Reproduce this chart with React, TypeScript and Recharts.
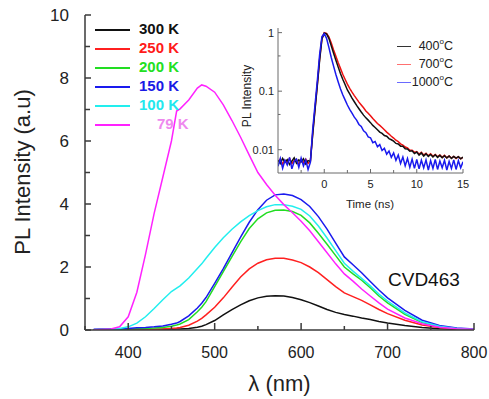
import React from "react";
import { LineChart, Line, XAxis, YAxis, Label } from "recharts";

const FONT = "'Liberation Sans', Arial, Helvetica, sans-serif";
const AXIS = "#3a3a3a";

// main spectra: PL intensity vs wavelength
const wavelengths = [
  360, 380, 390, 400, 410, 420, 430, 440, 450, 456, 460, 470, 480, 485, 490, 500, 510, 520, 530, 540, 550,
  560, 570, 580, 590, 600, 610, 620, 630, 640, 650, 660, 670, 680, 690, 700, 720, 740, 760, 780, 800,
];
const k300 = [
  0, 0, 0, 0.005, 0.01, 0.01, 0.015, 0.02, 0.025, 0.03, 0.035, 0.05, 0.09, 0.12, 0.17, 0.3, 0.48, 0.65, 0.8, 0.93, 1.02,
  1.07, 1.09, 1.08, 1.03, 0.96, 0.87, 0.76, 0.65, 0.56, 0.49, 0.44, 0.38, 0.33, 0.27, 0.22, 0.14, 0.08, 0.04, 0.02, 0.01,
];
const k250 = [
  0, 0, 0.005, 0.01, 0.01, 0.015, 0.02, 0.03, 0.05, 0.06, 0.08, 0.15, 0.28, 0.37, 0.48, 0.72, 1.02, 1.36, 1.68, 1.94, 2.12,
  2.23, 2.28, 2.28, 2.22, 2.14, 2.0, 1.82, 1.6, 1.38, 1.18, 1.06, 0.94, 0.8, 0.65, 0.52, 0.31, 0.16, 0.08, 0.03, 0.01,
];
const k200 = [
  0.01, 0.02, 0.02, 0.03, 0.04, 0.05, 0.06, 0.08, 0.12, 0.16, 0.19, 0.33, 0.58, 0.72, 0.9, 1.38, 1.85, 2.33, 2.8, 3.22, 3.53,
  3.72, 3.8, 3.81, 3.76, 3.64, 3.4, 3.07, 2.72, 2.36, 2.0, 1.78, 1.58, 1.34, 1.08, 0.86, 0.5, 0.24, 0.11, 0.05, 0.02,
];
const k150 = [
  0.02, 0.03, 0.04, 0.05, 0.07, 0.08, 0.1, 0.13, 0.18, 0.22, 0.27, 0.45, 0.7, 0.85, 1.03, 1.48, 1.95, 2.45, 2.95, 3.42, 3.82,
  4.12, 4.29, 4.32, 4.27, 4.14, 3.92, 3.6, 3.2, 2.76, 2.32, 2.07, 1.82, 1.54, 1.27, 1.02, 0.62, 0.31, 0.14, 0.06, 0.03,
];
const k100 = [
  0, 0.02, 0.05, 0.1, 0.22, 0.42, 0.68, 0.96, 1.22, 1.33, 1.4, 1.65, 1.95, 2.1, 2.28, 2.62, 2.93, 3.2, 3.43, 3.63, 3.79,
  3.91, 3.98, 3.98, 3.93, 3.83, 3.62, 3.3, 2.92, 2.52, 2.12, 1.87, 1.64, 1.4, 1.14, 0.92, 0.54, 0.26, 0.12, 0.05, 0.02,
];
const k79 = [
  0, 0.03, 0.1, 0.42, 1.2, 2.4, 3.7, 4.85, 6.0, 6.95, 7.02, 7.3, 7.68, 7.78, 7.74, 7.55, 7.15, 6.65, 6.12, 5.55, 5.0,
  4.62, 4.28, 3.98, 3.72, 3.45, 3.15, 2.8, 2.45, 2.1, 1.78, 1.55, 1.3, 1.08, 0.86, 0.66, 0.38, 0.2, 0.09, 0.04, 0.02,
];

const xTicks = [350, 400, 450, 500, 550, 600, 650, 700, 750, 800];
const yTicks = [0, 1, 2, 3, 4, 5, 6, 7, 8, 9, 10];

const spectra = [
  { key: "k300", name: "300 K", values: k300, color: "#111111", text: "#111111", indent: 0 },
  { key: "k250", name: "250 K", values: k250, color: "#ff2020", text: "#ff1a1a", indent: 0 },
  { key: "k200", name: "200 K", values: k200, color: "#22dd22", text: "#22e022", indent: 0 },
  { key: "k150", name: "150 K", values: k150, color: "#1a1aee", text: "#1a1ae6", indent: 0 },
  { key: "k100", name: "100 K", values: k100, color: "#22eeee", text: "#22e8ee", indent: 0 },
  { key: "k79", name: "79 K", values: k79, color: "#ff22ff", text: "#ee88ee", indent: 18 },
];

const spectraData = wavelengths.map((w, i) => {
  const row: any = { w };
  spectra.forEach((s) => (row[s.key] = s.values[i]));
  return row;
});

// inset: time-resolved PL decay
const times = [
  -5, -4.75, -4.5, -4.25, -4, -3.75, -3.5, -3.25, -3, -2.75, -2.5, -2.25, -2, -1.75, -1.5, -1.25, -1, -0.75, -0.5, -0.25,
  0, 0.25, 0.5, 0.75, 1, 1.25, 1.5, 1.75, 2, 2.25, 2.5, 2.75, 3, 3.25, 3.5, 3.75, 4, 4.25, 4.5, 4.75,
  5, 5.25, 5.5, 5.75, 6, 6.25, 6.5, 6.75, 7, 7.25, 7.5, 7.75, 8, 8.25, 8.5, 8.75, 9, 9.25, 9.5, 9.75,
  10, 10.25, 10.5, 10.75, 11, 11.25, 11.5, 11.75, 12, 12.25, 12.5, 12.75, 13, 13.25, 13.5, 13.75, 14, 14.25, 14.5, 14.75, 15,
];
const c400 = [
  0.0066, 0.0058, 0.0071, 0.0061, 0.0068, 0.0056, 0.0064, 0.0073, 0.0059, 0.0067, 0.0062, 0.007, 0.0057, 0.0065, 0.0063,
  0.018, 0.048, 0.125, 0.34, 0.78, 0.98, 0.95, 0.8, 0.6, 0.45, 0.34, 0.26, 0.2, 0.16, 0.13, 0.105, 0.09, 0.076, 0.066,
  0.057, 0.05, 0.044, 0.039, 0.035, 0.032, 0.029, 0.026, 0.024, 0.022, 0.02, 0.019, 0.0175, 0.017, 0.0155, 0.0148,
  0.014, 0.0128, 0.0125, 0.0115, 0.0115, 0.0104, 0.0103, 0.0094, 0.0096, 0.0086, 0.0091,
  0.0081, 0.0088, 0.0078, 0.0085, 0.0077, 0.0083, 0.0075, 0.0082, 0.0074, 0.008, 0.0073, 0.0079, 0.0072, 0.0078, 0.0071,
  0.0077, 0.0072, 0.0076, 0.007, 0.0075,
];
const c700 = [
  0.0062, 0.0069, 0.0057, 0.0066, 0.006, 0.0071, 0.0058, 0.0065, 0.0068, 0.0056, 0.0067, 0.006, 0.0069, 0.0058, 0.0064,
  0.019, 0.05, 0.13, 0.36, 0.8, 1.0, 0.97, 0.85, 0.67, 0.51, 0.4, 0.31, 0.245, 0.195, 0.16, 0.132, 0.112, 0.096, 0.084,
  0.074, 0.065, 0.058, 0.052, 0.046, 0.042, 0.038, 0.034, 0.031, 0.028, 0.026, 0.024, 0.022, 0.02, 0.0185, 0.017,
  0.0158, 0.0145, 0.0137, 0.0126, 0.012, 0.0111, 0.0107, 0.0098, 0.0098, 0.009, 0.0093,
  0.0084, 0.009, 0.0081, 0.0087, 0.0079, 0.0085, 0.0077, 0.0083, 0.0076, 0.0081, 0.0074, 0.008, 0.0073, 0.0078, 0.0072,
  0.0077, 0.0071, 0.0076, 0.007, 0.0074,
];
const c1000 = [
  0.0052, 0.0071, 0.0048, 0.0066, 0.0055, 0.0074, 0.0047, 0.0063, 0.0069, 0.005, 0.0072, 0.0053, 0.0067, 0.0046, 0.0061,
  0.022, 0.058, 0.15, 0.42, 0.86, 0.96, 0.8, 0.56, 0.38, 0.27, 0.195, 0.145, 0.11, 0.087, 0.071, 0.058, 0.049, 0.042,
  0.036, 0.032, 0.027, 0.025, 0.021, 0.0195, 0.0165, 0.016, 0.0132, 0.0138, 0.0112, 0.0122, 0.0097, 0.0106, 0.0084,
  0.0095, 0.0074, 0.0088, 0.0066, 0.0081, 0.0058, 0.0075, 0.0053, 0.0071, 0.005, 0.0069, 0.0048, 0.0068,
  0.0047, 0.0066, 0.0049, 0.0067, 0.0045, 0.0065, 0.0048, 0.0068, 0.0046, 0.0064, 0.0049, 0.0066, 0.0045, 0.0063, 0.0048,
  0.0067, 0.0046, 0.0065, 0.0049, 0.0062,
];

const insetXTicks = [-5, -2.5, 0, 2.5, 5, 7.5, 10, 12.5, 15];
const insetYTicks = [
  0.005, 0.006, 0.007, 0.008, 0.009, 0.01, 0.02, 0.03, 0.04, 0.05, 0.06, 0.07, 0.08, 0.09,
  0.1, 0.2, 0.3, 0.4, 0.5, 0.6, 0.7, 0.8, 0.9, 1,
];
const insetYLabels: Record<string, string> = { "0.01": "0.01", "0.1": "0.1", "1": "1" };

const decays = [
  { key: "c700", name: "700", values: c700, color: "#ee1111", legend: "#ff7070" },
  { key: "c400", name: "400", values: c400, color: "#111111", legend: "#333333" },
  { key: "c1000", name: "1000", values: c1000, color: "#1a1aee", legend: "#6a6aff" },
];
const decayLegendOrder = ["c400", "c700", "c1000"];

const decayData = times.map((t, i) => {
  const row: any = { t };
  decays.forEach((s) => (row[s.key] = s.values[i]));
  return row;
});

// ---- tick renderers (ticks point inward, like the original plot) ----
const BottomTick = (props: any) => {
  const { x, y, payload } = props;
  const major = payload.value % 100 === 0;
  return (
    <g>
      <line x1={x} y1={y} x2={x} y2={y - (major ? 7 : 4)} stroke={AXIS} strokeWidth={1.5} />
      {major && payload.value !== 350 && (
        <text x={x} y={y + 28} textAnchor="middle" fontSize={16} fill="#222" fontFamily={FONT}>
          {payload.value}
        </text>
      )}
    </g>
  );
};
const TopTick = (props: any) => {
  const { x, y, payload } = props;
  const major = payload.value % 100 === 0;
  return <line x1={x} y1={y} x2={x} y2={y + (major ? 7 : 4)} stroke={AXIS} strokeWidth={1.5} />;
};
const LeftTick = (props: any) => {
  const { x, y, payload } = props;
  const major = payload.value % 2 === 0;
  return (
    <g>
      <line x1={x} y1={y} x2={x + (major ? 6 : 5)} y2={y} stroke={AXIS} strokeWidth={1.5} />
      {major && (
        <text x={x - 16} y={y + 6} textAnchor="end" fontSize={17} fill="#222" fontFamily={FONT}>
          {payload.value}
        </text>
      )}
    </g>
  );
};
const RightTick = (props: any) => {
  const { x, y, payload } = props;
  const major = payload.value % 2 === 0;
  return <line x1={x} y1={y} x2={x - (major ? 6 : 5)} y2={y} stroke={AXIS} strokeWidth={1.5} />;
};

const INSET_AXIS = "#6a6a6a";
const InsetBottomTick = (props: any) => {
  const { x, y, payload } = props;
  const major = payload.value % 5 === 0;
  return (
    <g>
      <line x1={x} y1={y} x2={x} y2={y - (major ? 4 : 3)} stroke={INSET_AXIS} strokeWidth={1} />
      {major && (
        <text x={x} y={y + 15} textAnchor="middle" fontSize={11} fill="#222" fontFamily={FONT}>
          {payload.value}
        </text>
      )}
    </g>
  );
};
const InsetTopTick = (props: any) => {
  const { x, y, payload } = props;
  const major = payload.value % 5 === 0;
  return <line x1={x} y1={y} x2={x} y2={y + (major ? 4 : 3)} stroke={INSET_AXIS} strokeWidth={1} />;
};
const InsetLeftTick = (props: any) => {
  const { x, y, payload } = props;
  const label = insetYLabels[String(payload.value)];
  return (
    <g>
      <line x1={x} y1={y} x2={x + (label ? 4 : 2.5)} y2={y} stroke={INSET_AXIS} strokeWidth={1} />
      {label && (
        <text x={x - 4} y={y + 4} textAnchor="end" fontSize={11} fill="#222" fontFamily={FONT}>
          {label}
        </text>
      )}
    </g>
  );
};
const InsetRightTick = (props: any) => {
  const { x, y, payload } = props;
  const label = insetYLabels[String(payload.value)];
  return <line x1={x} y1={y} x2={x - (label ? 4 : 2.5)} y2={y} stroke={INSET_AXIS} strokeWidth={1} />;
};

export default function App() {
  return (
    <div
      style={{
        position: "absolute",
        left: 0,
        top: 0,
        width: 489,
        height: 399,
        background: "#fff",
        fontFamily: FONT,
      }}
    >
      <LineChart width={489} height={399} data={spectraData} margin={{ top: 15, right: 15, bottom: 0, left: 0 }}>
        <XAxis
          xAxisId="b"
          dataKey="w"
          type="number"
          domain={[350, 800]}
          allowDataOverflow
          ticks={xTicks}
          height={69}
          tickSize={0}
          tickMargin={0}
          tickLine={false}
          tick={BottomTick}
          axisLine={{ stroke: AXIS, strokeWidth: 1.5 }}
        >
          <Label
            content={() => (
              <text x={279.5} y={391} textAnchor="middle" fontSize={22} fill="#222" fontFamily={FONT}>
                λ (nm)
              </text>
            )}
          />
        </XAxis>
        <XAxis
          xAxisId="top"
          orientation="top"
          type="number"
          domain={[350, 800]}
          allowDataOverflow
          ticks={xTicks}
          height={0}
          tickSize={0}
          tickMargin={0}
          tickLine={false}
          tick={TopTick}
          axisLine={{ stroke: AXIS, strokeWidth: 1.5 }}
        />
        <YAxis
          yAxisId="l"
          type="number"
          domain={[0, 10]}
          allowDataOverflow
          ticks={yTicks}
          width={85}
          tickSize={0}
          tickMargin={0}
          tickLine={false}
          tick={LeftTick}
          axisLine={{ stroke: AXIS, strokeWidth: 1.5 }}
        >
          <Label
            content={() => (
              <text
                transform="translate(30,172) rotate(-90)"
                textAnchor="middle"
                fontSize={22}
                fill="#222"
                fontFamily={FONT}
              >
                PL Intensity (a.u)
              </text>
            )}
          />
        </YAxis>
        <YAxis
          yAxisId="r"
          orientation="right"
          type="number"
          domain={[0, 10]}
          allowDataOverflow
          ticks={yTicks}
          width={0}
          tickSize={0}
          tickMargin={0}
          tickLine={false}
          tick={RightTick}
          axisLine={{ stroke: AXIS, strokeWidth: 1.5 }}
        />
        {spectra.map((s) => (
          <Line
            key={s.key}
            xAxisId="b"
            yAxisId="l"
            type="linear"
            dataKey={s.key}
            name={s.name}
            stroke={s.color}
            strokeWidth={1.5}
            dot={false}
            isAnimationActive={false}
          />
        ))}
      </LineChart>

      {/* main legend */}
      {spectra.map((s, i) => (
        <div key={s.key} style={{ position: "absolute", left: 95, top: 29 + i * 19 - 9, height: 18 }}>
          <div style={{ position: "absolute", left: 0, top: 9, width: 35, height: 1.5, background: s.color }} />
          <div
            style={{
              position: "absolute",
              left: 44 + s.indent,
              top: 0,
              fontSize: 15,
              fontWeight: "bold",
              color: s.text,
              whiteSpace: "nowrap",
              lineHeight: "18px",
            }}
          >
            {s.name}
          </div>
        </div>
      ))}

      <div style={{ position: "absolute", left: 388, top: 268, fontSize: 19, color: "#111", lineHeight: "24px" }}>
        CVD463
      </div>

      {/* inset */}
      <div style={{ position: "absolute", left: 240, top: 20 }}>
        <LineChart width={235} height={195} data={decayData} margin={{ top: 8, right: 12, bottom: 0, left: 0 }}>
          <XAxis
            xAxisId="b"
            dataKey="t"
            type="number"
            domain={[-5, 15]}
            allowDataOverflow
            ticks={insetXTicks}
            height={42}
            tickSize={0}
            tickMargin={0}
            tickLine={false}
            tick={InsetBottomTick}
            axisLine={{ stroke: INSET_AXIS, strokeWidth: 1 }}
          >
            <Label
              content={() => (
                <text x={130} y={188} textAnchor="middle" fontSize={11.5} fill="#222" fontFamily={FONT}>
                  Time (ns)
                </text>
              )}
            />
          </XAxis>
          <XAxis
            xAxisId="top"
            orientation="top"
            type="number"
            domain={[-5, 15]}
            allowDataOverflow
            ticks={insetXTicks}
            height={0}
            tickSize={0}
            tickMargin={0}
            tickLine={false}
            tick={InsetTopTick}
            axisLine={{ stroke: INSET_AXIS, strokeWidth: 1 }}
          />
          <YAxis
            yAxisId="l"
            type="number"
            scale="log"
            domain={[0.004, 1.2]}
            allowDataOverflow
            ticks={insetYTicks}
            width={38}
            tickSize={0}
            tickMargin={0}
            tickLine={false}
            tick={InsetLeftTick}
            axisLine={{ stroke: INSET_AXIS, strokeWidth: 1 }}
          >
            <Label
              content={() => (
                <text
                  transform="translate(11,76) rotate(-90)"
                  textAnchor="middle"
                  fontSize={12}
                  fill="#222"
                  fontFamily={FONT}
                >
                  PL Intensity
                </text>
              )}
            />
          </YAxis>
          <YAxis
            yAxisId="r"
            orientation="right"
            type="number"
            scale="log"
            domain={[0.004, 1.2]}
            allowDataOverflow
            ticks={insetYTicks}
            width={0}
            tickSize={0}
            tickMargin={0}
            tickLine={false}
            tick={InsetRightTick}
            axisLine={{ stroke: INSET_AXIS, strokeWidth: 1 }}
          />
          {decays.map((s) => (
            <Line
              key={s.key}
              xAxisId="b"
              yAxisId="l"
              type="linear"
              dataKey={s.key}
              stroke={s.color}
              strokeWidth={1.5}
              dot={false}
              isAnimationActive={false}
            />
          ))}
        </LineChart>
      </div>

      {/* inset legend */}
      {decayLegendOrder.map((k, i) => {
        const s = decays.find((d) => d.key === k)!;
        return (
          <div key={k} style={{ position: "absolute", left: 397, top: 46 + i * 18 - 8, width: 56, height: 16 }}>
            <div style={{ position: "absolute", left: 0, top: 8, width: 14, height: 1, background: s.legend }} />
            <div
              style={{
                position: "absolute",
                right: 0,
                top: 0,
                fontSize: 12.5,
                color: "#222",
                lineHeight: "16px",
                whiteSpace: "nowrap",
              }}
            >
              {s.name}
              <sup style={{ fontSize: 8, verticalAlign: "6px", lineHeight: 0 }}>o</sup>C
            </div>
          </div>
        );
      })}
    </div>
  );
}
